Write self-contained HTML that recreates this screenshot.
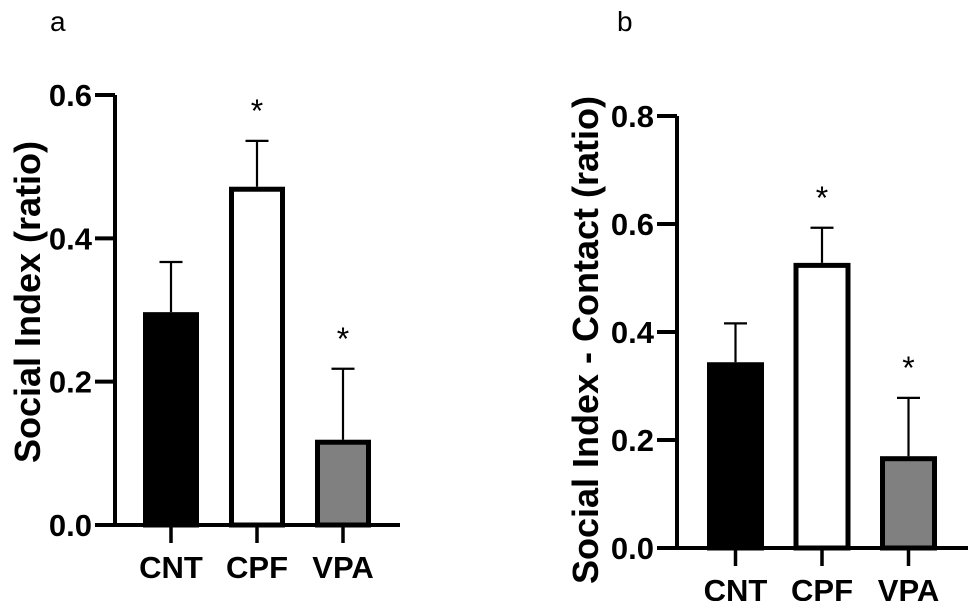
<!DOCTYPE html>
<html><head><meta charset="utf-8"><style>
html,body{margin:0;padding:0;background:#fff;}
svg{display:block;font-family:"Liberation Sans",Arial,sans-serif;}
</style></head><body>
<svg id="c" width="968" height="601" viewBox="0 0 968 601">
<text x="50" y="31" font-size="28">a</text>
<text x="617" y="31" font-size="28">b</text>
</svg>
<script>
const categories = ["CNT","CPF","VPA"];
const aValues = [0.297, 0.472, 0.119];
const aErrors = [0.070, 0.064, 0.099];
const aTicks = ["0.0","0.2","0.4","0.6"];
const aStars = [false, true, true];
const bValues = [0.344, 0.528, 0.170];
const bErrors = [0.072, 0.065, 0.108];
const bTicks = ["0.0","0.2","0.4","0.6","0.8"];
const bStars = [false, true, true];
const fills = ["#000","#fff","#808080"];
const NS="http://www.w3.org/2000/svg";
const svg=document.getElementById('c');
function mk(tag,attrs,parent){const e=document.createElementNS(NS,tag);for(const k in attrs)e.setAttribute(k,attrs[k]);(parent||svg).appendChild(e);return e;}
function panel(p){
  const g=mk('g',{});
  
  
  const ymax=parseFloat(p.ticks[p.ticks.length-1]);
  const y=v=>p.y0-(v/ymax)*(p.y0-p.yTop);
  const x=i=>p.x1+p.step*i;
  categories.forEach((c,i)=>{
    const xl=x(i), top=y(p.values[i]);
    const r=mk('rect',{x:xl+2.5,y:top+2.5,width:p.bw-5,height:p.y0-top-2.5,fill:fills[i],stroke:'#000','stroke-width':5},g);
    
    
    const cx=xl+p.bw/2, et=y(p.values[i]+p.errors[i]);
    const e=mk('path',{d:`M${cx},${top} V${et} M${cx-11.5},${et} H${cx+11.5}`,stroke:'#000','stroke-width':2.2,fill:'none'},g);
    
    
    if(p.stars[i]){
      const s=mk('text',{x:cx,y:et-19,'font-size':32,'text-anchor':'middle'},g);
      s.textContent='*';
      
      
    }
    const tk=mk('line',{x1:cx,x2:cx,y1:p.y0,y2:p.y0+18,stroke:'#000','stroke-width':3.5},g);
    
    
    const lb=mk('text',{x:cx,y:p.y0+53,'font-size':31,'font-weight':'bold','text-anchor':'middle'},g);
    lb.textContent=c;
    
    
  });
  const ax=mk('path',{d:`M${p.ax},${p.yTop} V${p.y0} H${p.xEnd}`,stroke:'#000','stroke-width':4,fill:'none'},g);
  
  
  p.ticks.forEach(t=>{
    const yy=y(parseFloat(t));
    const l=mk('line',{x1:p.ax-20,x2:p.ax,y1:yy,y2:yy,stroke:'#000','stroke-width':4},g);
    
    
    const tx=mk('text',{x:p.ax-23,y:yy+11,'font-size':31,'font-weight':'bold','text-anchor':'end'},g);
    tx.textContent=t;
    
    
  });
  const tt=mk('text',{x:0,y:0,'font-size':36,'font-weight':'bold','text-anchor':'middle',transform:`translate(${p.tx},${p.ty}) rotate(-90)`},g);
  tt.textContent=p.title;
  
  
}
panel({name:'panel-a',values:aValues,errors:aErrors,ticks:aTicks,stars:aStars,ax:115,y0:525,yTop:95,x1:143,step:86,bw:56,xEnd:400,tx:40,ty:302,title:'Social Index (ratio)'});
panel({name:'panel-b',values:bValues,errors:bErrors,ticks:bTicks,stars:bStars,ax:677,y0:548,yTop:116,x1:707,step:86.5,bw:57,xEnd:968,tx:598,ty:340,title:'Social Index - Contact (ratio)'});
</script>
</body></html>
